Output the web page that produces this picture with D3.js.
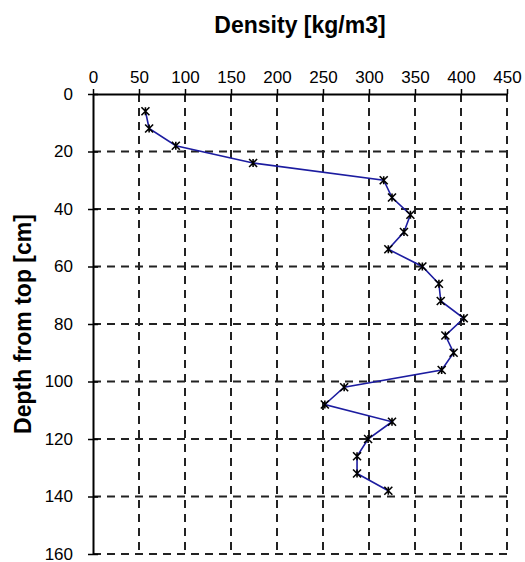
<!DOCTYPE html>
<html>
<head>
<meta charset="utf-8">
<script src="https://cdn.jsdelivr.net/npm/d3@7"></script>
<style>
  body { margin: 0; background: #fff; }
  text { font-family: "Liberation Sans", Arial, sans-serif; fill: #000; }
</style>
</head>
<body>
<svg id="chart"></svg>
<script>
// depth (cm) and measured density (kg/m3)
const depth = [6, 12, 18, 24, 30, 36, 42, 48, 54, 60, 66, 72, 78, 84, 90, 96, 102, 108, 114, 120, 126, 132, 138];
const density = [57, 61, 90, 174, 316, 325, 345, 338, 321, 358, 376, 378, 403, 383, 392, 379, 273, 252, 325, 299, 287, 287, 321];
const xTicks = [0, 50, 100, 150, 200, 250, 300, 350, 400, 450];
const yTicks = [0, 20, 40, 60, 80, 100, 120, 140, 160];

const width = 525;
const height = 562;
const plot_left = 93, plot_right = 507, plot_top = 94, plot_bottom = 554;

const svg = d3.select('#chart')
    .attr('width', width)
    .attr('height', height);

const x = d3.scaleLinear().domain([0, 450]).range([plot_left, plot_right]);
const y = d3.scaleLinear().domain([0, 160]).range([plot_top, plot_bottom]);

// dashed grid
const grid = svg.append('g')
    .attr('stroke', '#222')
    .attr('stroke-width', 2)
    .attr('stroke-dasharray', '8,6');

grid.selectAll('.vgrid')
    .data(xTicks.slice(1))
    .enter().append('line')
    .attr('x1', d => x(d)).attr('x2', d => x(d))
    .attr('y1', plot_top).attr('y2', plot_bottom);

grid.selectAll('.hgrid')
    .data(yTicks.slice(1))
    .enter().append('line')
    .attr('x1', plot_left).attr('x2', plot_right)
    .attr('y1', d => y(d)).attr('y2', d => y(d));

// top axis
const xAxis = d3.axisTop(x).tickValues(xTicks).tickSize(5).tickSizeOuter(0).tickPadding(6);
const gx = svg.append('g')
    .attr('transform', `translate(0,${plot_top})`)
    .call(xAxis);
gx.select('.domain').attr('stroke-width', 2);
gx.selectAll('.tick line').attr('stroke-width', 1.5);
gx.selectAll('.tick text').style('font-size', '17px');

// left axis
const yAxis = d3.axisLeft(y).tickValues(yTicks).tickSize(5).tickSizeOuter(0).tickPadding(15);
const gy = svg.append('g')
    .attr('transform', `translate(${plot_left},0)`)
    .call(yAxis);
gy.select('.domain').attr('stroke-width', 2);
gy.selectAll('.tick line').attr('stroke-width', 1.5).attr('x2', 5).attr('x1', -5);
gy.selectAll('.tick text').style('font-size', '17px');
svg.selectAll('.domain').attr('stroke', '#000');
svg.selectAll('.tick text').attr('fill', '#000').style('font-family', '"Liberation Sans", Arial, sans-serif');

// titles
svg.append('text')
    .attr('x', (plot_left + plot_right) / 2)
    .attr('y', 33)
    .attr('text-anchor', 'middle')
    .style('font-size', '23px')
    .style('font-weight', 'bold')
    .text('Density [kg/m3]');

svg.append('text')
    .attr('transform', `translate(31,${(plot_top + plot_bottom) / 2}) rotate(-90)`)
    .attr('text-anchor', 'middle')
    .style('font-size', '23px')
    .style('font-weight', 'bold')
    .text('Depth from top [cm]');

// series
const pts = depth.map((d, i) => ({depth: d, density: density[i]}));

const line = d3.line()
    .x(d => x(d.density))
    .y(d => y(d.depth));

svg.append('path')
    .datum(pts)
    .attr('d', line)
    .attr('fill', 'none')
    .attr('stroke', '#1c1ca0')
    .attr('stroke-width', 1.6);

// star markers (x + vertical bar)
const s = 4;
svg.selectAll('.marker')
    .data(pts)
    .enter().append('path')
    .attr('class', 'marker')
    .attr('transform', d => `translate(${x(d.density)},${y(d.depth)})`)
    .attr('d', `M${-s},${-s}L${s},${s}M${-s},${s}L${s},${-s}M0,${-s}L0,${s}`)
    .attr('stroke', '#000')
    .attr('stroke-width', 1.6)
    .attr('fill', 'none');
</script>
</body>
</html>
